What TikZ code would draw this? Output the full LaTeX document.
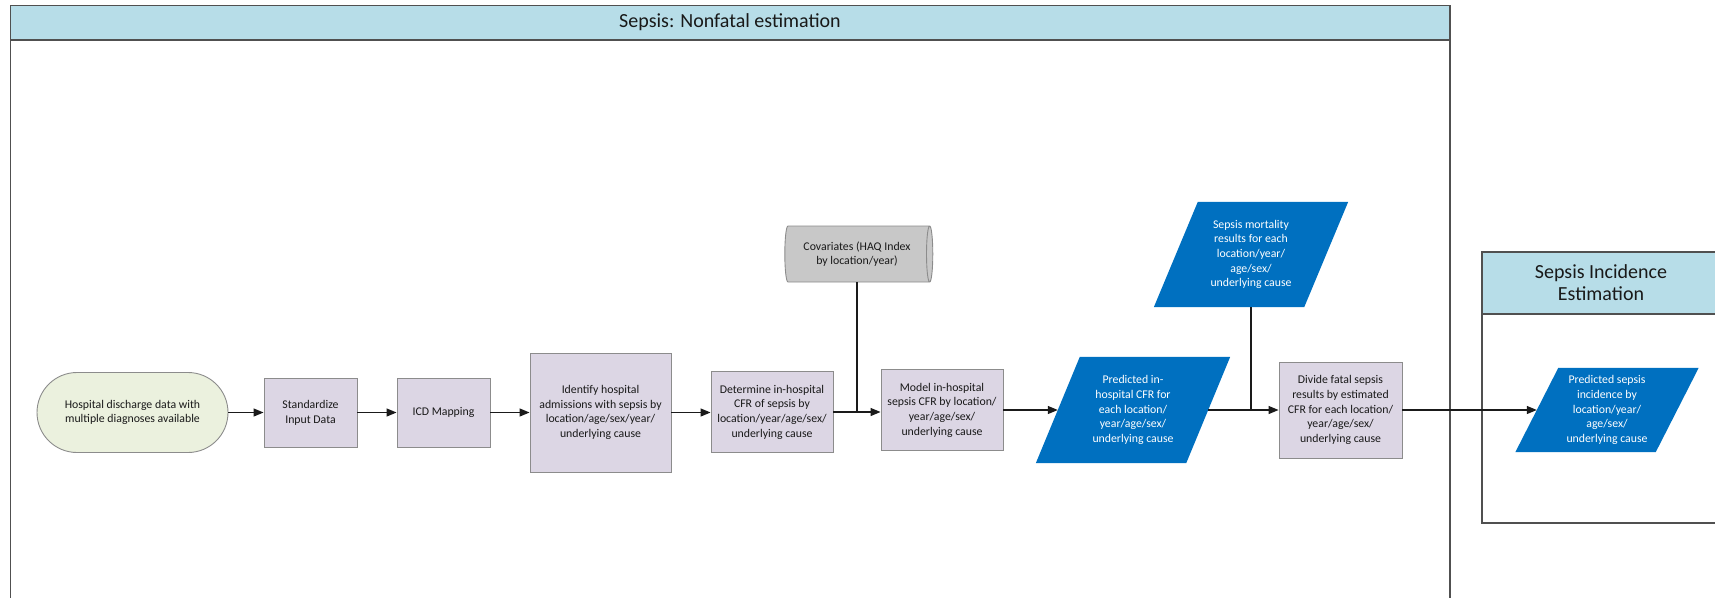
\documentclass[tikz,border=0pt]{standalone}
\usepackage{fontspec}
\setmainfont{Carlito}
\usetikzlibrary{arrows.meta,shapes.geometric,backgrounds,calc}
\definecolor{hdr}{HTML}{B7DDE8}
\definecolor{proc}{HTML}{DCD6E4}
\definecolor{term}{HTML}{EBF1DE}
\definecolor{pblue}{HTML}{0070C0}
\definecolor{cylfill}{HTML}{C8C8C8}
\definecolor{edgecol}{HTML}{1A1A1A}
\definecolor{boxline}{HTML}{8C8C8C}
\definecolor{frameline}{HTML}{505050}
\newcommand{\parafill}[2]{%
  \fill[pblue] ($(#1.north west)+(#2,0)$) -- ($(#1.north east)+(#2,0)$)
    -- ($(#1.south east)-(#2,0)$) -- ($(#1.south west)-(#2,0)$) -- cycle;}
\begin{document}
\begin{tikzpicture}[x=1pt,y=-1pt,
  every node/.style={font=\fontsize{11.8}{14.7}\selectfont, align=center, inner sep=0pt, text=black!90},
  procbox/.style={draw=boxline, fill=proc, line width=0.9pt},
  termbox/.style={draw=boxline, fill=term, line width=0.9pt, rounded corners=40pt},
  parabox/.style={text=white},
  cylbox/.style={cylinder, shape border rotate=0, aspect=0.25, draw=boxline, line width=0.9pt,
     cylinder uses custom fill, cylinder body fill=cylfill, cylinder end fill=cylfill},
  title/.style={font=\fontsize{20}{22}\selectfont},
  conn/.style={draw=edgecol, line width=1.2pt},
  arr/.style={conn, -{Triangle[length=10pt,width=8pt]}}]
\useasboundingbox (0,0) rectangle (1715,597);
\clip (0,0) rectangle (1715,597);
% main frame
\draw[frameline, line width=1.5pt] (10.5,40) -- (10.5,640);
\draw[frameline, line width=1.5pt] (1450,40) -- (1450,640);
\filldraw[fill=hdr, draw=frameline, line width=1.5pt] (10.5,5.5) rectangle (1450,40);
\node[title] (maintitle) at (730,22.5) {Sepsis: Nonfatal estimation};
% incidence frame
\draw[frameline, line width=1.5pt] (1482,314) rectangle (1740,523);
\filldraw[fill=hdr, draw=frameline, line width=1.5pt] (1482,252) rectangle (1740,314);
\node[title] (inctitle) at (1601,283) {Sepsis Incidence\\Estimation};
% nodes
\node[termbox, minimum width=191pt, minimum height=80pt] (hosp) at (132.5,412.5) {Hospital discharge data with\\multiple diagnoses available};
\node[procbox, minimum width=93pt, minimum height=69pt] (std) at (310.5,412.5) {Standardize\\Input Data};
\node[procbox, minimum width=93pt, minimum height=69pt] (icd) at (443.5,412.5) {ICD Mapping};
\node[procbox, minimum width=141pt, minimum height=119pt] (ident) at (600.5,412.5) {Identify hospital\\admissions with sepsis by\\location/age/sex/year/\\underlying cause};
\node[procbox, minimum width=122pt, minimum height=81pt] (det) at (772,412) {Determine in-hospital\\CFR of sepsis by\\location/year/age/sex/\\underlying cause};
\node[procbox, minimum width=122pt, minimum height=81pt] (model) at (942,410) {Model in-hospital\\sepsis CFR by location/\\year/age/sex/\\underlying cause};
\node[cylbox, minimum width=56pt, minimum height=148pt] (cov) at (857,254) {Covariates (HAQ Index\\by location/year)};
\node[parabox, minimum width=150pt, minimum height=106pt] (pcfr) at (1133,410) {Predicted in-\\hospital CFR for\\each location/\\year/age/sex/\\underlying cause};
\node[parabox, minimum width=150pt, minimum height=105pt] (mort) at (1251,254.5) {Sepsis mortality\\results for each\\location/year/\\age/sex/\\underlying cause};
\node[procbox, minimum width=123pt, minimum height=96pt] (divide) at (1340.5,410) {Divide fatal sepsis\\results by estimated\\CFR for each location/\\year/age/sex/\\underlying cause};
\node[parabox, minimum width=140pt, minimum height=84pt] (inc) at (1607,410) {Predicted sepsis\\incidence by\\location/year/\\age/sex/\\underlying cause};
\begin{scope}[on background layer]
\parafill{pcfr}{22}
\parafill{mort}{22}
\parafill{inc}{21.5}
\end{scope}
% connectors
\draw[arr] (hosp.east) -- (std.west);
\draw[arr] (std.east) -- (icd.west);
\draw[arr] (icd.east) -- (ident.west);
\draw[arr] (ident.east) -- (ident.east -| det.west);
\draw[arr] (det.east) -- (det.east -| model.west);
\draw[conn] (cov.south) -- (cov.south |- det.east);
\draw[arr] (model.east) -- (model.east -| pcfr.west);
\draw[arr] (pcfr.east) -- (divide.west);
\draw[conn] (mort.south) -- (mort.south |- divide.west);
\draw[arr] (divide.east) -- (inc.west);
\end{tikzpicture}
\end{document}
